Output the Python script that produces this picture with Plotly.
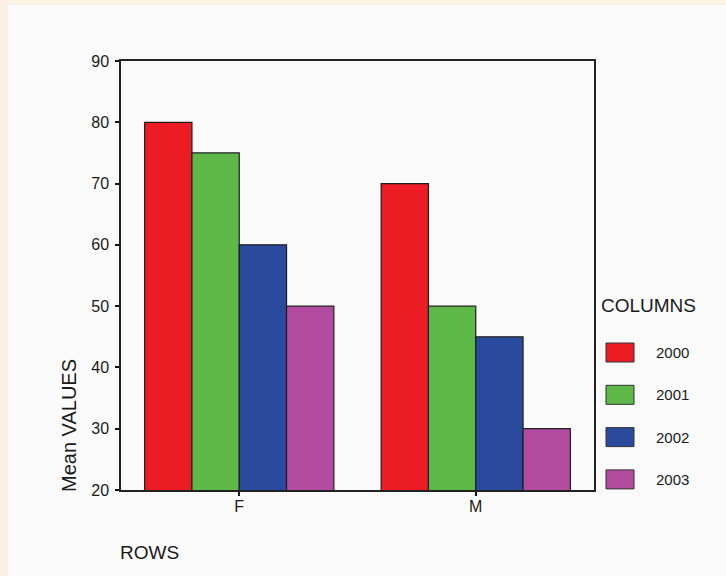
import plotly.graph_objects as go

# Data
rows = ["F", "M"]
years = ["2000", "2001", "2002", "2003"]
values_2000 = [80, 70]
values_2001 = [75, 50]
values_2002 = [60, 45]
values_2003 = [50, 30]
series = [values_2000, values_2001, values_2002, values_2003]
colors = ["#ED1B24", "#5DB848", "#2A4A9E", "#B24AA0"]

W, H = 726, 576
L, R, T, B = 121, 132, 61, 86
PW, PH = W - L - R, H - T - B


def px(x):
    return (x - L) / PW


def py(y):
    return (H - B - y) / PH


FONT = "Liberation Sans, Arial, sans-serif"
INK = "#1a1a1a"

fig = go.Figure()
for name, vals, col in zip(years, series, colors):
    fig.add_trace(go.Bar(
        x=rows, y=vals, name=name,
        marker=dict(color=col, line=dict(color="#1f1f1f", width=1.2)),
        showlegend=False,
    ))

shapes = [
    # light panel on the peach page
    dict(type="rect", xref="paper", yref="paper", layer="below",
         x0=px(8), x1=px(W + 2), y0=py(5), y1=py(H + 2),
         fillcolor="#FAFAFA", line=dict(width=0)),
]


def label(text, x, y, size, **kw):
    d = dict(text=text, xref="paper", yref="paper", x=px(x), y=py(y),
             xanchor="center", yanchor="middle", showarrow=False,
             font=dict(family=FONT, size=size, color=INK))
    d.update(kw)
    return d


annotations = [
    label("Mean VALUES", 69, 426, 20, textangle=-90),
    label("ROWS", 149, 552, 19),
    label("COLUMNS", 648, 305, 19),
]

# Legend: swatch + year label per series
for i, (name, col) in enumerate(zip(years, colors)):
    cy = 352.5 + 42.3 * i
    shapes.append(dict(type="rect", xref="paper", yref="paper",
                       x0=px(606), x1=px(634), y0=py(cy - 9.5), y1=py(cy + 9.5),
                       fillcolor=col, line=dict(color="#333333", width=1)))
    annotations.append(label(name, 654, cy, 15, xanchor="left"))

fig.update_layout(
    width=W, height=H,
    margin=dict(l=L, r=R, t=T, b=B, pad=0),
    paper_bgcolor="#FBF0E4",
    plot_bgcolor="#FAFAFA",
    barmode="group", bargap=0.2, bargroupgap=0,
    shapes=shapes, annotations=annotations,
    font=dict(family=FONT, color=INK),
)
fig.update_xaxes(
    range=[-0.5, 1.5], showgrid=False, zeroline=False,
    showline=True, linecolor="#222222", linewidth=1.5, mirror=True,
    ticks="outside", ticklen=4, tickwidth=2, tickcolor="#111111",
    ticklabelstandoff=-3,
    tickfont=dict(family=FONT, size=16, color=INK),
)
fig.update_yaxes(
    range=[20, 90], dtick=10, showgrid=False, zeroline=False,
    showline=True, linecolor="#222222", linewidth=1.5, mirror=True,
    ticks="outside", ticklen=4, tickwidth=2, tickcolor="#111111",
    ticklabelstandoff=3,
    tickfont=dict(family=FONT, size=16, color=INK),
)

fig.write_html("out.html")
